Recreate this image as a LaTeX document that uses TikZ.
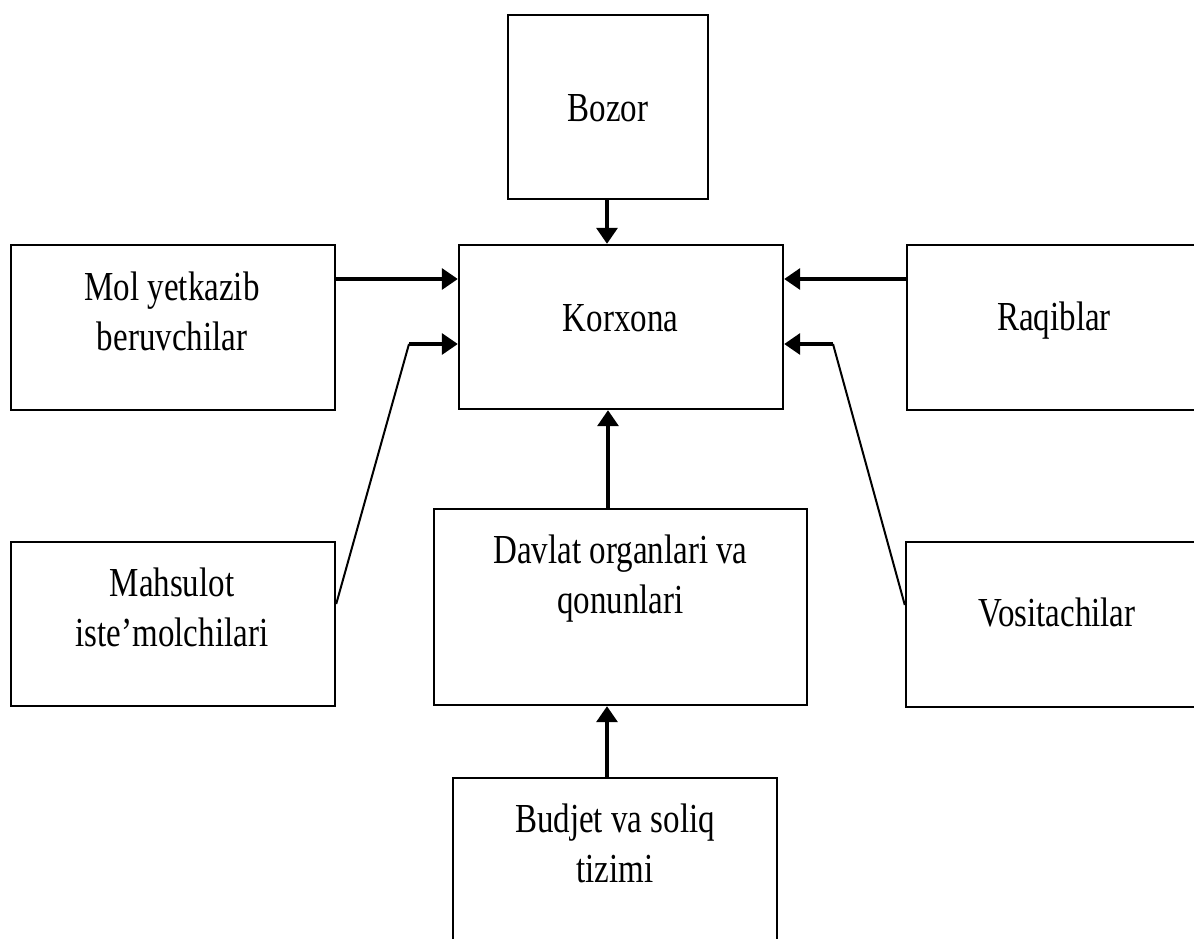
\documentclass[tikz,border=0pt]{standalone}
\usepackage{fontspec}
\usepackage{graphicx}
\setmainfont{Liberation Serif}
\usetikzlibrary{arrows.meta}
\tikzset{
  box/.style={draw=black, line width=1.2pt, rectangle, inner sep=0pt},
  lbl/.style={anchor=base, inner sep=0pt, font=\fontsize{16.5}{20}\selectfont},
  conn/.style={line width=1.7pt, -{Triangle[length=8pt,width=10.5pt]}},
  slant/.style={line width=1pt},
}
\newcommand{\tallt}[1]{\scalebox{1}[1.25]{#1}}
\newcommand{\twol}[2]{\tallt{\begin{tabular}[t]{@{}c@{}}#1\\#2\end{tabular}}}
\begin{document}
\begin{tikzpicture}[x=0.5pt,y=-0.5pt]
\useasboundingbox (0,0) rectangle (1194,938);
\clip (0,0) rectangle (1194,938);
\fill[white] (0,0) rectangle (1194,938);
% boxes
\node[box, minimum width=100pt, minimum height=92pt] (bozor) at (608,107) {};
\node[box, minimum width=162pt, minimum height=82.5pt] (mol) at (173,327.5) {};
\node[box, minimum width=162pt, minimum height=82pt] (korxona) at (621,327) {};
\node[box, minimum width=162pt, minimum height=82.5pt] (raqib) at (1069,327.5) {};
\node[box, minimum width=162pt, minimum height=82pt] (mahsulot) at (173,624) {};
\node[box, minimum width=186.5pt, minimum height=98pt] (davlat) at (620.5,607) {};
\node[box, minimum width=162pt, minimum height=82.5pt] (vosit) at (1068,624.5) {};
\node[box, minimum width=162pt, minimum height=100pt] (budjet) at (615,878) {};
% labels
\node[lbl] (tbozor) at (608,121) {\tallt{Bozor}};
\node[lbl] (tmol) at (172,300) {\twol{Mol yetkazib}{beruvchilar}};
\node[lbl] (tkorxona) at (620.5,331) {\tallt{Korxona}};
\node[lbl] (traqib) at (1054,330) {\tallt{Raqiblar}};
\node[lbl] (tmahsulot) at (172,596) {\twol{Mahsulot}{iste’molchilari}};
\node[lbl] (tdavlat) at (620.5,563) {\twol{Davlat organlari va}{qonunlari}};
\node[lbl] (tvosit) at (1057,626) {\tallt{Vositachilar}};
\node[lbl] (tbudjet) at (615,832) {\twol{Budjet va soliq}{tizimi}};
% bend points
\coordinate (lbend) at (409,344);
\coordinate (rbend) at (833,344);
% connectors
\draw[conn] (bozor.south -| 607,0) -- (korxona.north -| 607,0);
\draw[conn] (mol.east |- 0,279) -- (korxona.west |- 0,279);
\draw[conn] (raqib.west |- 0,279) -- (korxona.east |- 0,279);
\draw[slant] (mahsulot.east |- 0,604) -- (lbend);
\draw[conn] (lbend) -- (korxona.west |- lbend);
\draw[slant] (vosit.west |- 0,605) -- (rbend);
\draw[conn] (rbend) -- (korxona.east |- rbend);
\draw[conn] (davlat.north -| 608,0) -- (korxona.south -| 608,0);
\draw[conn] (budjet.north -| 607,0) -- (davlat.south -| 607,0);
\end{tikzpicture}
\end{document}
